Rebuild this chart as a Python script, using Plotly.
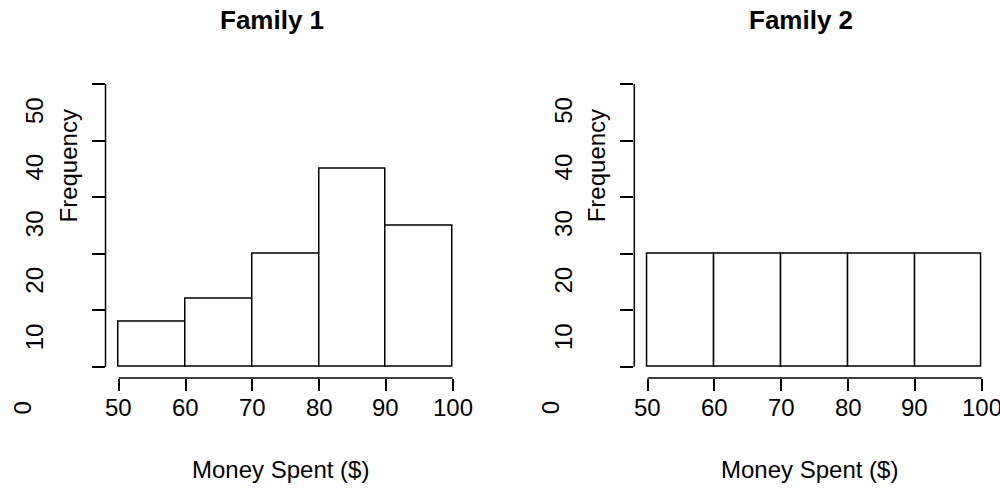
import plotly.graph_objects as go

# ---- data ----
bin_edges = [50, 60, 70, 80, 90, 100]
family1_counts = [8, 12, 20, 35, 25]
family2_counts = [20, 20, 20, 20, 20]
titles = ["Family 1", "Family 2"]
x_ticks = [50, 60, 70, 80, 90, 100]
y_ticks = [0, 10, 20, 30, 40, 50]
x_label = "Money Spent ($)"
y_label = "Frequency"

# ---- layout constants ----
W, H = 1000, 493
XR = [48, 102]
YR = [-2, 52]
x_domains = [[0.1055, 0.4660], [0.6343, 0.9951]]
y_domain = [0.2331, 0.8525]
FONT = "Liberation Sans, Arial, Helvetica, sans-serif"
AX_FS = 24
TITLE_FS = 26
LW = 1.5

mids = [(a + b) / 2 for a, b in zip(bin_edges[:-1], bin_edges[1:])]
widths = [b - a for a, b in zip(bin_edges[:-1], bin_edges[1:])]

fig = go.Figure()
for i, counts in enumerate([family1_counts, family2_counts]):
    fig.add_trace(go.Bar(
        x=mids, y=counts, width=widths,
        marker=dict(color="white", line=dict(color="black", width=LW)),
        xaxis="x" if i == 0 else "x2", yaxis="y" if i == 0 else "y2",
        showlegend=False, hoverinfo="x+y",
    ))


def px_x(panel, v):
    d0, d1 = x_domains[panel]
    return (d0 + (v - XR[0]) / (XR[1] - XR[0]) * (d1 - d0)) * W


def py_y(v):
    return (1 - (y_domain[0] + (v - YR[0]) / (YR[1] - YR[0]) * (y_domain[1] - y_domain[0]))) * H


annotations = []
shapes = []
for i in range(2):
    xa = "x" if i == 0 else "x2"
    ya = "y" if i == 0 else "y2"
    axis_px = px_x(i, XR[0])
    # axis lines (R style, spanning only first to last tick)
    shapes.append(dict(type="line", xref=f"{xa} domain", yref=f"{ya} domain",
                       x0=0, x1=0,
                       y0=(y_ticks[0] - YR[0]) / (YR[1] - YR[0]),
                       y1=(y_ticks[-1] - YR[0]) / (YR[1] - YR[0]),
                       line=dict(color="black", width=LW)))
    shapes.append(dict(type="line", xref=f"{xa} domain", yref=f"{ya} domain",
                       y0=0, y1=0,
                       x0=(x_ticks[0] - XR[0]) / (XR[1] - XR[0]),
                       x1=(x_ticks[-1] - XR[0]) / (XR[1] - XR[0]),
                       line=dict(color="black", width=LW)))
    # x tick labels
    for v in x_ticks:
        annotations.append(dict(text=str(v), xref=xa, x=v, yref="paper", y=1 - 407 / H,
                                xanchor="center", yanchor="middle", showarrow=False,
                                font=dict(family=FONT, size=AX_FS, color="black")))
    # y tick labels (rotated, shifted as in the reference)
    for v in y_ticks:
        if v == 0:
            lx, ly = axis_px - 84, 408
        else:
            lx, ly = axis_px - 71, py_y(v) + 26.5
        annotations.append(dict(text=str(v), xref="paper", x=lx / W, yref="paper", y=1 - ly / H,
                                xanchor="center", yanchor="middle", showarrow=False, textangle=-90,
                                font=dict(family=FONT, size=AX_FS, color="black")))
    # axis titles
    annotations.append(dict(text=y_label, xref="paper", x=(axis_px - 37) / W,
                            yref="paper", y=1 - 166 / H, xanchor="center", yanchor="middle",
                            showarrow=False, textangle=-90,
                            font=dict(family=FONT, size=AX_FS, color="black")))
    cx = (px_x(i, XR[0]) + px_x(i, XR[1])) / 2
    annotations.append(dict(text=x_label, xref="paper", x=(cx - 5) / W,
                            yref="paper", y=1 - 469 / H, xanchor="center", yanchor="middle",
                            showarrow=False,
                            font=dict(family=FONT, size=AX_FS, color="black")))
    annotations.append(dict(text=f"<b>{titles[i]}</b>", xref="paper", x=(cx - 14) / W,
                            yref="paper", y=1 - 20 / H, xanchor="center", yanchor="middle",
                            showarrow=False,
                            font=dict(family=FONT, size=TITLE_FS, color="black")))

common_x = dict(range=XR, showgrid=False, zeroline=False, showline=False,
                tickmode="array", tickvals=x_ticks, ticks="outside", ticklen=12,
                tickwidth=LW, tickcolor="black", showticklabels=False, fixedrange=True)
common_y = dict(range=YR, showgrid=False, zeroline=False, showline=False,
                tickmode="array", tickvals=y_ticks, ticks="outside", ticklen=13,
                tickwidth=LW, tickcolor="black", showticklabels=False, fixedrange=True)

fig.update_layout(
    width=W, height=H,
    margin=dict(l=0, r=0, t=0, b=0),
    paper_bgcolor="white", plot_bgcolor="white",
    bargap=0,
    xaxis=dict(domain=x_domains[0], anchor="y", **common_x),
    yaxis=dict(domain=y_domain, anchor="x", **common_y),
    xaxis2=dict(domain=x_domains[1], anchor="y2", **common_x),
    yaxis2=dict(domain=y_domain, anchor="x2", **common_y),
    shapes=shapes,
    annotations=annotations,
    font=dict(family=FONT, color="black"),
)

fig.write_html(
    "out.html",
    config={"displayModeBar": False},
    post_script="document.body.style.margin='0';document.body.style.overflow='hidden';",
)
